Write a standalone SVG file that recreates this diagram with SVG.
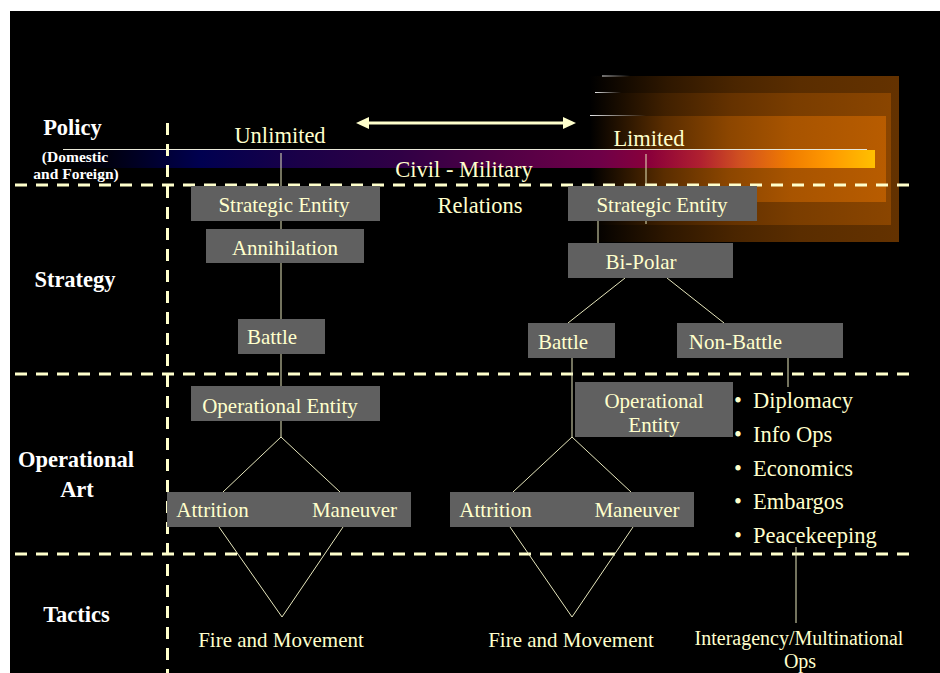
<svg xmlns="http://www.w3.org/2000/svg" width="940" height="673" viewBox="0 0 940 673">
  <style>
    .box { fill: #606060; }
    .lbl { font-family: "Liberation Serif", "Times New Roman", serif; font-size: 21px; fill: #ffffcc; text-anchor: middle; }
    .lbl2 { font-family: "Liberation Serif", "Times New Roman", serif; font-size: 20px; fill: #ffffcc; text-anchor: middle; }
    .big { font-family: "Liberation Serif", "Times New Roman", serif; font-size: 22.5px; fill: #ffffcc; }
    .lvl { font-family: "Liberation Serif", "Times New Roman", serif; font-size: 22.5px; font-weight: bold; fill: #ffffff; text-anchor: middle; }
    .sub { font-family: "Liberation Serif", "Times New Roman", serif; font-size: 15.5px; font-weight: bold; fill: #ffffff; text-anchor: middle; }
    .dash { stroke: #ffffcc; stroke-width: 3; stroke-dasharray: 12 9; fill: none; }
    .conn { stroke: #e6e6bc; stroke-width: 1; fill: none; }
  </style>
  <defs>
    <linearGradient id="glowOuter" x1="0" y1="0" x2="1" y2="0">
      <stop offset="0" stop-color="#000000"/>
      <stop offset="0.25" stop-color="#2e1700"/>
      <stop offset="0.47" stop-color="#4a2500"/>
      <stop offset="0.68" stop-color="#5a2d00"/>
      <stop offset="1" stop-color="#643200"/>
    </linearGradient>
    <linearGradient id="glowMid" x1="0" y1="0" x2="1" y2="0">
      <stop offset="0" stop-color="#000000"/>
      <stop offset="0.25" stop-color="#402000"/>
      <stop offset="0.47" stop-color="#653200"/>
      <stop offset="0.68" stop-color="#7a3d00"/>
      <stop offset="1" stop-color="#8a4500"/>
    </linearGradient>
    <linearGradient id="glowInner" x1="0" y1="0" x2="1" y2="0">
      <stop offset="0" stop-color="#000000"/>
      <stop offset="0.25" stop-color="#5a2d00"/>
      <stop offset="0.47" stop-color="#8c4600"/>
      <stop offset="0.68" stop-color="#a85400"/>
      <stop offset="1" stop-color="#b85c00"/>
    </linearGradient>
    <linearGradient id="edgeFade" x1="0" y1="0" x2="1" y2="0">
      <stop offset="0" stop-color="#ffffff" stop-opacity="0.9"/>
      <stop offset="1" stop-color="#ffffff" stop-opacity="0"/>
    </linearGradient>
    <linearGradient id="spectrum" gradientUnits="userSpaceOnUse" x1="63" y1="0" x2="875" y2="0">
      <stop offset="0" stop-color="#000000"/>
      <stop offset="0.06" stop-color="#000012"/>
      <stop offset="0.17" stop-color="#000050"/>
      <stop offset="0.29" stop-color="#1a0048"/>
      <stop offset="0.415" stop-color="#300045"/>
      <stop offset="0.538" stop-color="#500045"/>
      <stop offset="0.661" stop-color="#6e0048"/>
      <stop offset="0.723" stop-color="#8a003a"/>
      <stop offset="0.785" stop-color="#b02030"/>
      <stop offset="0.834" stop-color="#d05020"/>
      <stop offset="0.895" stop-color="#f07c00"/>
      <stop offset="0.945" stop-color="#ff9a00"/>
      <stop offset="1" stop-color="#ffc000"/>
    </linearGradient>
  </defs>

  <!-- page -->
  <rect x="0" y="0" width="940" height="673" fill="#ffffff"/>
  <rect x="10" y="11" width="930" height="662" fill="#000000"/>

  <!-- glow behind the Limited end -->
  <g id="glow">
    <rect x="590" y="76" width="309" height="166" fill="url(#glowOuter)"/>
    <rect x="590" y="93" width="301" height="132" fill="url(#glowMid)"/>
    <rect x="590" y="116" width="296" height="86" fill="url(#glowInner)"/>
    <rect x="602" y="75.5" width="28" height="1" fill="url(#edgeFade)"/>
    <rect x="595" y="92" width="26" height="1" fill="url(#edgeFade)"/>
    <rect x="590" y="115" width="56" height="1" fill="url(#edgeFade)"/>
  </g>

  <!-- policy spectrum bar -->
  <g id="spectrum-bar">
    <rect x="63" y="150" width="812" height="18" fill="url(#spectrum)"/>
    <line x1="63" y1="149.5" x2="867" y2="149.5" stroke="#e8e8d8" stroke-width="1"/>
  </g>

  <!-- level separators -->
  <g id="separators">
    <line class="dash" x1="15" y1="185" x2="909" y2="185"/>
    <line class="dash" x1="15" y1="374" x2="909" y2="374"/>
    <line class="dash" x1="15" y1="554" x2="909" y2="554"/>
    <line class="dash" x1="167.5" y1="123" x2="167.5" y2="673"/>
  </g>

  <!-- connectors -->
  <g id="connectors">
    <!-- unlimited column -->
    <line class="conn" x1="281" y1="153" x2="281" y2="437"/>
    <polyline class="conn" points="223,492 281,437 340,492"/>
    <polyline class="conn" points="219,527 282,617 343,527"/>
    <!-- limited column -->
    <line class="conn" x1="646" y1="154" x2="646" y2="224"/>
    <line class="conn" x1="598" y1="221" x2="598" y2="243"/>
    <line class="conn" x1="625" y1="278" x2="568" y2="323"/>
    <line class="conn" x1="667" y1="278" x2="724" y2="323"/>
    <line class="conn" x1="572" y1="358" x2="572" y2="437"/>
    <polyline class="conn" points="513,492 572,437 631,492"/>
    <polyline class="conn" points="510,527 572,617 633,527"/>
    <line class="conn" x1="788" y1="358" x2="788" y2="387"/>
    <line class="conn" x1="796" y1="547" x2="796" y2="623"/>
    <!-- civil-military double arrow -->
    <g id="arrow">
      <line x1="366" y1="123" x2="565" y2="123" stroke="#ffffcc" stroke-width="3"/>
      <polygon points="356,123 369,117 369,129" fill="#ffffcc"/>
      <polygon points="576,123 563,117 563,129" fill="#ffffcc"/>
    </g>
  </g>

  <!-- level labels -->
  <g id="levels">
    <text class="lvl" x="72.5" y="135">Policy</text>
    <text class="sub" x="75" y="162">(Domestic</text>
    <text class="sub" x="76" y="179">and Foreign)</text>
    <text class="lvl" x="75" y="287">Strategy</text>
    <text class="lvl" x="76" y="467">Operational</text>
    <text class="lvl" x="77" y="497">Art</text>
    <text class="lvl" x="76.5" y="622">Tactics</text>
  </g>

  <!-- spectrum labels -->
  <g id="spectrum-labels">
    <text class="big" x="280" y="143" text-anchor="middle">Unlimited</text>
    <text class="big" x="649" y="146" text-anchor="middle">Limited</text>
    <text class="big" x="464" y="177" text-anchor="middle">Civil - Military</text>
    <text class="big" x="480" y="213" text-anchor="middle">Relations</text>
  </g>

  <!-- unlimited column nodes -->
  <g id="strategic-entity-left">
    <rect class="box" x="191" y="186" width="189" height="35"/>
    <text class="lbl" x="284" y="212">Strategic Entity</text>
  </g>
  <g id="annihilation">
    <rect class="box" x="206" y="229" width="158" height="34"/>
    <text class="lbl" x="285" y="255">Annihilation</text>
  </g>
  <g id="battle-left">
    <rect class="box" x="238" y="319" width="87" height="35"/>
    <text class="lbl" x="272" y="344">Battle</text>
  </g>
  <g id="operational-entity-left">
    <rect class="box" x="191" y="386" width="189" height="35"/>
    <text class="lbl" x="280" y="413">Operational Entity</text>
  </g>
  <g id="attrition-maneuver-left">
    <rect class="box" x="167" y="492" width="244" height="35"/>
    <text class="lbl" x="212.5" y="517">Attrition</text>
    <text class="lbl" x="354.5" y="517">Maneuver</text>
  </g>
  <g id="fire-movement-left">
    <text class="lbl" x="281" y="647">Fire and Movement</text>
  </g>

  <!-- limited column nodes -->
  <g id="strategic-entity-right">
    <rect class="box" x="568" y="186" width="189" height="35"/>
    <text class="lbl" x="662" y="212">Strategic Entity</text>
  </g>
  <g id="bi-polar">
    <rect class="box" x="568" y="243" width="165" height="35"/>
    <text class="lbl" x="641" y="269">Bi-Polar</text>
  </g>
  <g id="battle-right">
    <rect class="box" x="528" y="323" width="87" height="35"/>
    <text class="lbl" x="563" y="349">Battle</text>
  </g>
  <g id="non-battle">
    <rect class="box" x="677" y="323" width="166" height="35"/>
    <text class="lbl" x="735.5" y="349">Non-Battle</text>
  </g>
  <g id="operational-entity-right">
    <rect class="box" x="575" y="382" width="158" height="55"/>
    <text class="lbl" x="654" y="408">Operational</text>
    <text class="lbl" x="654" y="432">Entity</text>
  </g>
  <g id="attrition-maneuver-right">
    <rect class="box" x="450" y="492" width="244" height="35"/>
    <text class="lbl" x="495.5" y="517">Attrition</text>
    <text class="lbl" x="637" y="517">Maneuver</text>
  </g>
  <g id="fire-movement-right">
    <text class="lbl" x="571" y="647">Fire and Movement</text>
  </g>

  <!-- non-battle instruments -->
  <g id="instruments">
    <text class="big" x="738" y="408" text-anchor="middle">•</text>
    <text class="big" x="753" y="408">Diplomacy</text>
    <text class="big" x="738" y="442" text-anchor="middle">•</text>
    <text class="big" x="753" y="442">Info Ops</text>
    <text class="big" x="738" y="476" text-anchor="middle">•</text>
    <text class="big" x="753" y="476">Economics</text>
    <text class="big" x="738" y="509" text-anchor="middle">•</text>
    <text class="big" x="753" y="509">Embargos</text>
    <text class="big" x="738" y="543" text-anchor="middle">•</text>
    <text class="big" x="753" y="543">Peacekeeping</text>
  </g>
  <g id="interagency">
    <text class="lbl2" x="799" y="645">Interagency/Multinational</text>
    <text class="lbl2" x="800" y="668">Ops</text>
  </g>
</svg>
